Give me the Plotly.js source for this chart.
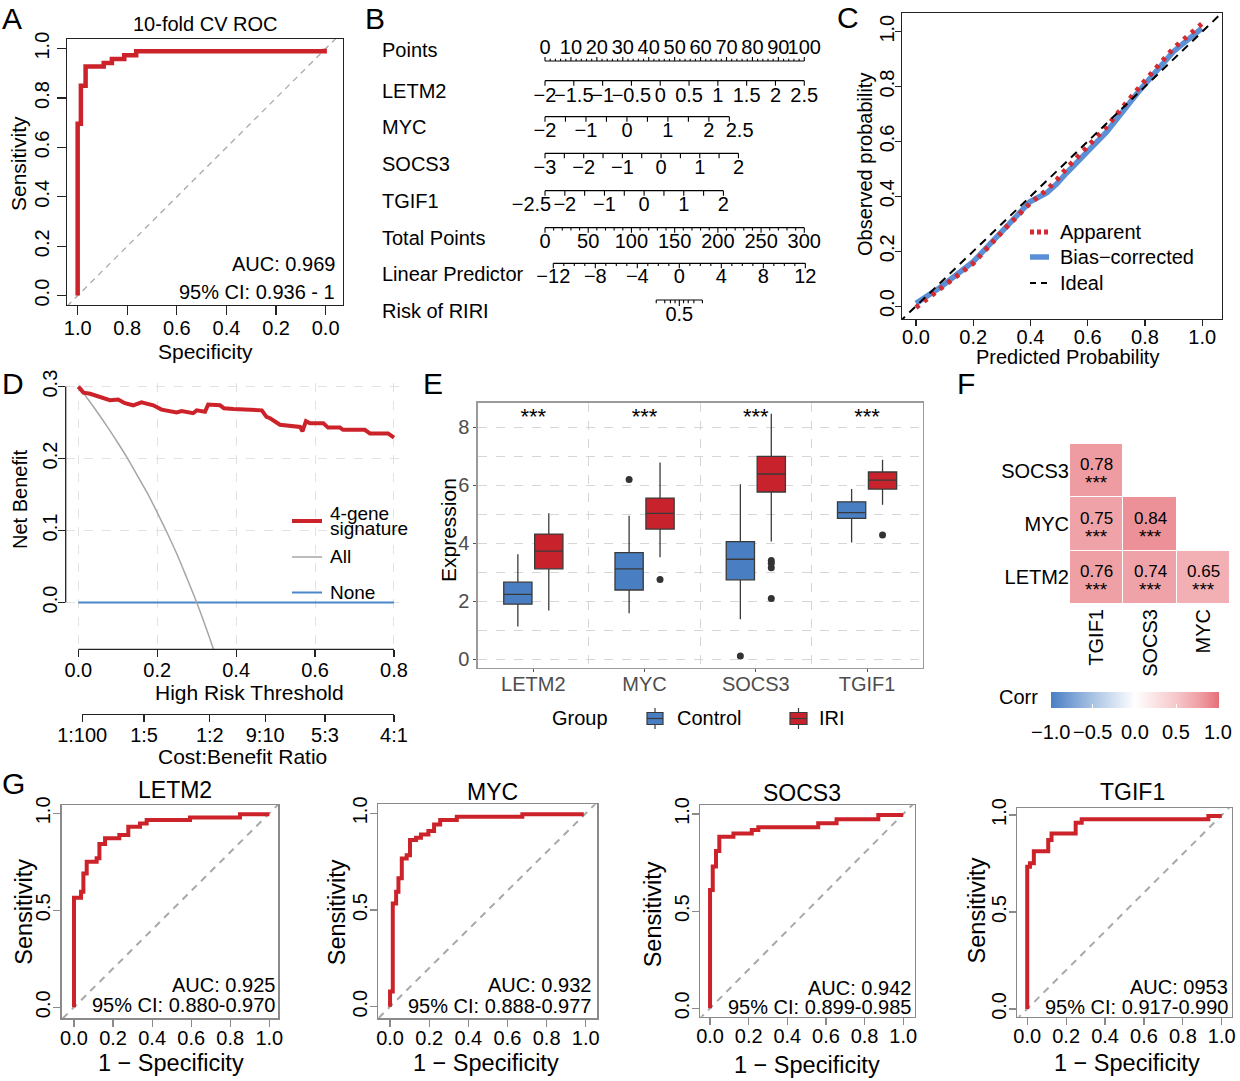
<!DOCTYPE html>
<html>
<head>
<meta charset="utf-8">
<script src="https://cdn.plot.ly/plotly-3.0.1.min.js"></script>
<style>
  html, body { margin: 0; padding: 0; background: #fff; }
  #fig { width: 1240px; height: 1081px; }
</style>
</head>
<body>
<div id="fig"></div>
<script>
const W = 1240, H = 1081;
const FONT = 'Liberation Sans, Arial, Helvetica, sans-serif';
const MINUS = '\u2212';

// ---------- A: 10-fold CV ROC (specificity vs sensitivity) ----------
const cvSpecificity = [1.0, 1.0, 0.987, 0.987, 0.968, 0.968, 0.895, 0.895, 0.862, 0.862, 0.812, 0.812, 0.764, 0.764, 0.004, 0.004];
const cvSensitivity = [0.0, 0.696, 0.696, 0.85, 0.85, 0.928, 0.928, 0.942, 0.942, 0.958, 0.958, 0.973, 0.973, 0.989, 0.989, 1.0];
const cvAUC = 'AUC: 0.969';
const cvCI = '95% CI: 0.936 - 1';

// ---------- B: nomogram ----------
const nomoNames = ['LETM2', 'MYC', 'SOCS3', 'TGIF1'];
const nomoMin = [-2, -2, -3, -2.5];            // value mapped to 0 points
const nomoPtsPerUnit = [22.22, 15.8, 14.92, 15.29];
const letm2Ticks = [-2, -1.5, -1, -0.5, 0, 0.5, 1, 1.5, 2, 2.5];
const letm2Labels = [-2, -1.5, -1, -0.5, 0, 0.5, 1, 1.5, 2, 2.5];
const mycTicks = [-2, -1.5, -1, -0.5, 0, 0.5, 1, 1.5, 2, 2.5];
const mycLabels = [-2, -1, 0, 1, 2, 2.5];
const socs3Ticks = [-3, -2.5, -2, -1.5, -1, -0.5, 0, 0.5, 1, 1.5, 2];
const socs3Labels = [-3, -2, -1, 0, 1, 2];
const tgif1Ticks = [-2.5, -2, -1.5, -1, -0.5, 0, 0.5, 1, 1.5, 2];
const tgif1Labels = [-2.5, -2, -1, 0, 1, 2];
const pointsTicks = [0, 2, 4, 6, 8, 10, 12, 14, 16, 18, 20, 22, 24, 26, 28, 30, 32, 34, 36, 38, 40, 42, 44, 46, 48, 50, 52, 54, 56, 58, 60, 62, 64, 66, 68, 70, 72, 74, 76, 78, 80, 82, 84, 86, 88, 90, 92, 94, 96, 98, 100];
const pointsLabels = [0, 10, 20, 30, 40, 50, 60, 70, 80, 90, 100];
const totalTicks = [0, 10, 20, 30, 40, 50, 60, 70, 80, 90, 100, 110, 120, 130, 140, 150, 160, 170, 180, 190, 200, 210, 220, 230, 240, 250, 260, 270, 280, 290, 300];
const totalLabels = [0, 50, 100, 150, 200, 250, 300];
const lpTicks = [-12, -11, -10, -9, -8, -7, -6, -5, -4, -3, -2, -1, 0, 1, 2, 3, 4, 5, 6, 7, 8, 9, 10, 11, 12];
const lpLabels = [-12, -8, -4, 0, 4, 8, 12];
const lpIntercept = 155.4;   // total points at linear predictor 0
const lpSlope = 12.15;       // total points per unit of linear predictor
const riskTicks = [0.1, 0.2, 0.3, 0.4, 0.5, 0.6, 0.7, 0.8, 0.9];
const riskLabels = [0.5];

// ---------- C: calibration ----------
const calPredicted = [0, 0.084, 0.2, 0.317, 0.398, 0.456, 0.491, 0.526, 0.596, 0.666, 0.782, 0.899, 0.998];
const calApparent = [-0.005, 0.061, 0.156, 0.289, 0.374, 0.423, 0.459, 0.502, 0.575, 0.654, 0.8, 0.939, 1.028];
const calBiasCorrected = [0.01, 0.068, 0.162, 0.29, 0.38, 0.412, 0.445, 0.485, 0.56, 0.635, 0.787, 0.927, 1.012];

// ---------- D: decision curve ----------
const dcaThreshold = [0, 0.013, 0.03, 0.055, 0.08, 0.101, 0.118, 0.139, 0.16, 0.19, 0.211, 0.249, 0.262, 0.291, 0.3, 0.321, 0.329, 0.359, 0.369, 0.393, 0.465, 0.477, 0.486, 0.511, 0.562, 0.568, 0.577, 0.587, 0.621, 0.633, 0.663, 0.671, 0.726, 0.739, 0.785, 0.8];
const dcaSignature = [0.3, 0.2916, 0.29, 0.286, 0.281, 0.282, 0.277, 0.274, 0.278, 0.274, 0.268, 0.264, 0.266, 0.263, 0.267, 0.265, 0.275, 0.274, 0.27, 0.269, 0.267, 0.258, 0.256, 0.247, 0.244, 0.238, 0.252, 0.249, 0.249, 0.243, 0.243, 0.24, 0.24, 0.235, 0.235, 0.229];
const allThreshold = [0, 0.025, 0.05, 0.075, 0.1, 0.125, 0.15, 0.175, 0.2, 0.225, 0.25, 0.275, 0.3, 0.325, 0.35];
const allBenefit = [0.3, 0.282, 0.263, 0.243, 0.222, 0.2, 0.176, 0.152, 0.125, 0.097, 0.067, 0.034, 0.0, -0.037, -0.077];
const noneThreshold = [0, 0.8];
const noneBenefit = [0, 0];
const costBenefitCost = [1, 1, 1, 9, 5, 4];
const costBenefitBenefit = [100, 5, 2, 10, 3, 1];

// ---------- E: expression boxplots ----------
const genes = ['LETM2', 'MYC', 'SOCS3', 'TGIF1'];
const ctrlLower = [1.12, 1.58, 1.37, 4.02];
const ctrlQ1 = [1.89, 2.38, 2.73, 4.85];
const ctrlMedian = [2.23, 3.11, 3.44, 5.05];
const ctrlQ3 = [2.65, 3.67, 4.05, 5.42];
const ctrlUpper = [3.61, 4.94, 6.03, 5.86];
const iriLower = [1.67, 3.51, 4.05, 5.32];
const iriQ1 = [3.11, 4.48, 5.76, 5.86];
const iriMedian = [3.72, 5.02, 6.38, 6.17];
const iriQ3 = [4.31, 5.55, 6.99, 6.45];
const iriUpper = [5.03, 6.78, 8.46, 6.87];
const ctrlOutlierGene = ['MYC', 'SOCS3'];
const ctrlOutlierValue = [6.19, 0.10];
const iriOutlierGene = ['MYC', 'SOCS3', 'SOCS3', 'SOCS3', 'SOCS3', 'TGIF1'];
const iriOutlierValue = [2.74, 3.40, 3.30, 3.15, 2.09, 4.28];
const sigLabels = ['***', '***', '***', '***'];

// ---------- F: correlation ----------
const corrCols = ['TGIF1', 'SOCS3', 'MYC'];
const corrRows = ['LETM2', 'MYC', 'SOCS3'];
const corrValues = [[0.76, 0.74, 0.65], [0.75, 0.84, null], [0.78, null, null]];
const corrStars = [['***', '***', '***'], ['***', '***', null], ['***', null, null]];
const corrTicks = [-1, -0.5, 0, 0.5, 1];

// ---------- G: single-gene ROC (1 - specificity vs sensitivity) ----------
const rocGenes = ['LETM2', 'MYC', 'SOCS3', 'TGIF1'];
const rocAUC = ['AUC: 0.925', 'AUC: 0.932', 'AUC: 0.942', 'AUC: 0953'];
const rocCI = ['95% CI: 0.880-0.970', '95% CI: 0.888-0.977', '95% CI: 0.899-0.985', '95% CI: 0.917-0.990'];
const letm2FPR = [0, 0, 0.036, 0.036, 0.048, 0.048, 0.065, 0.065, 0.116, 0.116, 0.13, 0.13, 0.159, 0.159, 0.232, 0.232, 0.278, 0.278, 0.338, 0.338, 0.372, 0.372, 0.594, 0.594, 0.85, 0.85, 1.0];
const letm2TPR = [0, 0.565, 0.565, 0.596, 0.596, 0.69, 0.69, 0.75, 0.75, 0.768, 0.768, 0.842, 0.842, 0.871, 0.871, 0.888, 0.888, 0.931, 0.931, 0.948, 0.948, 0.966, 0.966, 0.978, 0.978, 0.995, 0.995];
const mycFPR = [0, 0, 0.014, 0.014, 0.031, 0.031, 0.043, 0.043, 0.06, 0.06, 0.085, 0.085, 0.102, 0.102, 0.133, 0.133, 0.158, 0.158, 0.196, 0.196, 0.225, 0.225, 0.256, 0.256, 0.341, 0.341, 0.676, 0.676, 0.99];
const mycTPR = [0, 0.078, 0.078, 0.534, 0.534, 0.595, 0.595, 0.664, 0.664, 0.767, 0.767, 0.784, 0.784, 0.862, 0.862, 0.874, 0.874, 0.891, 0.891, 0.909, 0.909, 0.943, 0.943, 0.966, 0.966, 0.983, 0.983, 0.995, 0.995];
const socs3FPR = [0, 0, 0.014, 0.014, 0.031, 0.031, 0.048, 0.048, 0.121, 0.121, 0.216, 0.216, 0.25, 0.25, 0.56, 0.56, 0.655, 0.655, 0.871, 0.871, 1.0];
const socs3TPR = [0, 0.609, 0.609, 0.729, 0.729, 0.81, 0.81, 0.883, 0.883, 0.9, 0.9, 0.918, 0.918, 0.931, 0.931, 0.952, 0.952, 0.973, 0.973, 0.995, 0.995];
const tgif1FPR = [0, 0, 0.014, 0.014, 0.034, 0.034, 0.108, 0.108, 0.125, 0.125, 0.249, 0.249, 0.28, 0.28, 0.931, 0.931, 1.0];
const tgif1TPR = [0, 0.734, 0.734, 0.751, 0.751, 0.814, 0.814, 0.871, 0.871, 0.905, 0.905, 0.96, 0.96, 0.978, 0.978, 0.995, 0.995];
const rocFPR = [letm2FPR, mycFPR, socs3FPR, tgif1FPR];
const rocTPR = [letm2TPR, mycTPR, socs3TPR, tgif1TPR];

// reference diagonal endpoints (extends past the frame, clipped)
const diagRef = [-0.2, 1.2];

// ===================== helpers =====================
const px = x => x / W;
const py = y => 1 - y / H;
const dx = (l, r) => [px(l), px(r)];
const dy = (t, b) => [py(b), py(t)];
const fmt = v => (v < 0 ? MINUS + String(-v) : String(v));
const fmt1 = v => (v < 0 ? MINUS + (-v).toFixed(1) : v.toFixed(1));

const RED = '#CC2229';
const traces = [];
const annotations = [];
const shapes = [];

function label(text, x, y, size, o = {}) {
  annotations.push(Object.assign({
    text, x: px(x), y: py(y), xref: 'paper', yref: 'paper', showarrow: false,
    xanchor: 'center', yanchor: 'middle',
    font: { family: FONT, size, color: '#000' }
  }, o));
}
function pline(x0, y0, x1, y1, color, width, dash) {
  shapes.push({ type: 'line', xref: 'paper', yref: 'paper', x0: px(x0), y0: py(y0), x1: px(x1), y1: py(y1),
    line: { color, width, dash: dash || 'solid' } });
}
function rAxis(domain, range, vals, texts, o = {}) {
  return Object.assign({
    domain, range, tickmode: 'array', tickvals: vals, ticktext: texts,
    ticks: 'outside', ticklen: 8, tickwidth: 1.2, tickcolor: '#222',
    showline: true, mirror: true, linecolor: '#222', linewidth: 1.3,
    showgrid: false, zeroline: false, tickangle: 0,
    tickfont: { family: FONT, size: 20, color: '#000' }, fixedrange: true
  }, o);
}
const tick5 = [0, 0.2, 0.4, 0.6, 0.8, 1.0];
const tick5Text = tick5.map(fmt1);

const layout = {
  width: W, height: H, margin: { l: 0, r: 0, t: 0, b: 0 },
  paper_bgcolor: '#fff', plot_bgcolor: 'rgba(0,0,0,0)', showlegend: false,
  font: { family: FONT, size: 20, color: '#000' }
};

// panel letters
[['A', 12, 18], ['B', 375, 18], ['C', 848, 17], ['D', 13, 384], ['E', 433, 384], ['F', 966, 384], ['G', 13, 783]]
  .forEach(([t, x, y]) => label(t, x, y, 30));

// ===================== A =====================
layout.xaxis = rAxis(dx(67, 343), [1.043, -0.07], tick5, tick5Text, { anchor: 'y', ticklen: 9, ticklabelstandoff: -4 });
layout.yaxis = rAxis(dy(39, 305), [-0.038, 1.039], tick5, tick5Text, { anchor: 'x', ticklen: 9, tickangle: -90 });
traces.push({ x: diagRef.map(v => 1 - v), y: diagRef, xaxis: 'x', yaxis: 'y', mode: 'lines',
  line: { color: '#A8A8A8', width: 1.3, dash: '6px,5px' }, hoverinfo: 'skip' });
traces.push({ x: cvSpecificity, y: cvSensitivity, xaxis: 'x', yaxis: 'y', mode: 'lines',
  line: { color: RED, width: 4.5 }, hoverinfo: 'skip' });
label('10-fold CV ROC', 205, 24, 20);
label('Sensitivity', 18, 164, 21, { textangle: -90 });
label('Specificity', 205, 352, 21);
label(cvAUC, 337, 264, 20, { xanchor: 'right' });
label(cvCI, 337, 292, 20, { xanchor: 'right' });

// ===================== B: nomogram =====================
const B_PX_PER_PT = 2.593, B_ZERO = 545;
layout.xaxis2 = { domain: dx(440, 850), range: [(440 - B_ZERO) / B_PX_PER_PT, (850 - B_ZERO) / B_PX_PER_PT], visible: false, fixedrange: true, anchor: 'y2' };
layout.yaxis2 = { domain: dy(30, 340), range: [340, 30], visible: false, fixedrange: true, anchor: 'x2' };

function nomoScale(name, toPts, ticks, labels, g) {
  const xs = ticks.map(toPts);
  // axis line
  traces.push({ x: [Math.min(...xs), Math.max(...xs)], y: [g.line, g.line], xaxis: 'x2', yaxis: 'y2',
    mode: 'lines', line: { color: '#000', width: 1.2 }, hoverinfo: 'skip' });
  // tick marks
  const tx = [], ty = [];
  ticks.forEach((t, i) => {
    const major = labels.includes(t);
    const len = (g.tickLen || 4.5) * (major || !g.minorShort ? 1 : 0.55);
    tx.push(xs[i], xs[i], null);
    ty.push(g.line, g.line + g.dir * len, null);
  });
  traces.push({ x: tx, y: ty, xaxis: 'x2', yaxis: 'y2', mode: 'lines',
    line: { color: '#000', width: 1.1 }, hoverinfo: 'skip' });
  // tick labels; crowded end labels are pushed outward
  const pos = labels.map((v, i) => {
    if (g.firstOut && i === 0) return 'middle left';
    if (g.lastOut && i === labels.length - 1) return 'middle right';
    return 'middle center';
  });
  const nudge = labels.map((v, i) => {
    if (g.firstOut && i === 0) return 2.4;
    if (g.lastOut && i === labels.length - 1) return -1.4;
    return 0;
  });
  traces.push({ x: labels.map((v, i) => toPts(v) + nudge[i]), y: labels.map(() => g.text), text: labels.map(g.fmt || fmt),
    xaxis: 'x2', yaxis: 'y2', mode: 'text', textposition: pos, cliponaxis: false,
    textfont: { family: FONT, size: 20, color: '#000' }, hoverinfo: 'skip' });
  label(name, 380, g.name, 20, { xanchor: 'left' });
}
nomoScale('Points', v => v, pointsTicks, pointsLabels, { line: 61, text: 49, name: 50, dir: -1, tickLen: 4, minorShort: true });
const varTicks = [letm2Ticks, mycTicks, socs3Ticks, tgif1Ticks];
const varLabels = [letm2Labels, mycLabels, socs3Labels, tgif1Labels];
const varRows = [
  { line: 80.7, text: 96.5, name: 90.7 },
  { line: 116.7, text: 132, name: 127, lastOut: true },
  { line: 153.3, text: 168.5, name: 164 },
  { line: 190.7, text: 205.7, name: 201, firstOut: true }
];
nomoNames.forEach((n, i) => {
  nomoScale(n, v => (v - nomoMin[i]) * nomoPtsPerUnit[i], varTicks[i], varLabels[i],
    Object.assign({ dir: 1, tickLen: 5 }, varRows[i]));
});
nomoScale('Total Points', v => v / 3, totalTicks, totalLabels, { line: 227.7, text: 243.3, name: 237.7, dir: 1, tickLen: 5, minorShort: true });
nomoScale('Linear Predictor', v => (lpIntercept + lpSlope * v) / 3, lpTicks, lpLabels, { line: 263.3, text: 277.7, name: 274.3, dir: 1, tickLen: 5, minorShort: true });
nomoScale('Risk of RIRI', r => (lpIntercept + lpSlope * Math.log(r / (1 - r))) / 3, riskTicks, riskLabels,
  { line: 300, text: 316, name: 311, dir: 1, tickLen: 6, minorShort: true });

// ===================== C: calibration =====================
layout.xaxis3 = rAxis(dx(902, 1221.7), [-0.049, 1.068], tick5, tick5Text, { anchor: 'y3', ticklen: 6, ticklabelstandoff: -6 });
layout.yaxis3 = rAxis(dy(13, 319), [-0.047, 1.068], tick5, tick5Text, { anchor: 'x3', ticklen: 6, tickangle: -90, ticklabelstandoff: -7 });
traces.push({ x: calPredicted, y: calBiasCorrected, xaxis: 'x3', yaxis: 'y3', mode: 'lines',
  line: { color: '#5B8FD6', width: 5.5 }, hoverinfo: 'skip' });
traces.push({ x: calPredicted, y: calApparent, xaxis: 'x3', yaxis: 'y3', mode: 'lines',
  line: { color: '#D42A32', width: 5, dash: '4px,6px' }, hoverinfo: 'skip' });
traces.push({ x: diagRef, y: diagRef, xaxis: 'x3', yaxis: 'y3', mode: 'lines',
  line: { color: '#000', width: 2, dash: '8px,6px' }, hoverinfo: 'skip' });
label('Observed probability', 865, 165, 20, { textangle: -90 });
label('Predicted Probability', 1067, 357, 20);
pline(1030, 232, 1049, 232, '#D42A32', 5, '4px,3px');
pline(1030, 257, 1049, 257, '#5B8FD6', 5.5);
pline(1030, 283, 1049, 283, '#000', 2, '6px,5px');
label('Apparent', 1058, 232, 20, { xanchor: 'left' });
label('Bias' + MINUS + 'corrected', 1058, 257, 20, { xanchor: 'left' });
label('Ideal', 1058, 283, 20, { xanchor: 'left' });

// ===================== D: decision curve =====================
const gridDash = { showgrid: true, gridcolor: '#E2E2E2', gridwidth: 1, griddash: 'dash' };
layout.xaxis4 = rAxis(dx(65.7, 406.6), [-0.032, 0.832], [0, 0.2, 0.4, 0.6, 0.8], ['0.0', '0.2', '0.4', '0.6', '0.8'],
  Object.assign({ anchor: 'y4', showline: false, mirror: false, ticklen: 7, ticklabelstandoff: -4 }, gridDash));
layout.yaxis4 = rAxis(dy(383, 649.3), [-0.065, 0.305], [0, 0.1, 0.2, 0.3], ['0.0', '0.1', '0.2', '0.3'],
  Object.assign({ anchor: 'x4', showline: false, mirror: false, ticklen: 7, tickangle: -90, ticklabelstandoff: -7 }, gridDash));
shapes.push({ type: 'line', xref: 'paper', yref: 'y4', x0: px(65.7), x1: px(65.7), y0: 0, y1: 0.3, line: { color: '#222', width: 1.3 } });
shapes.push({ type: 'line', xref: 'x4', yref: 'paper', x0: 0, x1: 0.8, y0: py(649.3), y1: py(649.3), line: { color: '#222', width: 1.3 } });
traces.push({ x: noneThreshold, y: noneBenefit, xaxis: 'x4', yaxis: 'y4', mode: 'lines',
  line: { color: '#4A86C8', width: 2 }, hoverinfo: 'skip' });
traces.push({ x: allThreshold, y: allBenefit, xaxis: 'x4', yaxis: 'y4', mode: 'lines',
  line: { color: '#A6A6A6', width: 1.5, shape: 'spline' }, hoverinfo: 'skip' });
traces.push({ x: dcaThreshold, y: dcaSignature, xaxis: 'x4', yaxis: 'y4', mode: 'lines',
  line: { color: RED, width: 4 }, hoverinfo: 'skip' });
// cost:benefit ratio axis, sharing the threshold scale of the main axis
const cbThreshold = costBenefitCost.map((c, i) => c / (c + costBenefitBenefit[i]));
const cbText = costBenefitCost.map((c, i) => c + ':' + costBenefitBenefit[i]);
const D_X0 = 78.3, D_PX_PER_UNIT = 394.6;
layout.xaxis5 = rAxis(dx(D_X0 + cbThreshold[0] * D_PX_PER_UNIT, D_X0 + 0.8 * D_PX_PER_UNIT), [cbThreshold[0], 0.8], cbThreshold, cbText,
  { anchor: 'y5', mirror: false, ticklen: 7, ticklabelstandoff: -4 });
layout.yaxis5 = { domain: dy(700, 714), range: [0, 1], visible: false, fixedrange: true, anchor: 'x5' };
traces.push({ x: [0.4], y: [null], xaxis: 'x5', yaxis: 'y5', mode: 'markers', marker: { opacity: 0 }, hoverinfo: 'skip' });
label('Net Benefit', 20, 500, 20, { textangle: -90 });
label('High Risk Threshold', 249, 692, 21);
label('Cost:Benefit Ratio', 242, 756, 21);
pline(292, 521, 322, 521, RED, 4);
pline(292, 557, 322, 557, '#A6A6A6', 1.5);
pline(292, 592.5, 322, 592.5, '#4A86C8', 2);
label('4-gene', 328, 513, 19, { xanchor: 'left' });
label('signature', 328, 529, 19, { xanchor: 'left' });
label('All', 328, 556, 19, { xanchor: 'left' });
label('None', 328, 592, 19, { xanchor: 'left' });

// ===================== E: boxplots =====================
const GRAY = '#4D4D4D';
const BOX_OFF = 0.139, BOX_W = 0.254;
const gridE = { showgrid: true, gridcolor: '#D6D6D6', gridwidth: 1, griddash: 'dash' };
layout.xaxis6 = {
  domain: dx(477.7, 922.7), range: [0.5, 4.5], anchor: 'y6', tickmode: 'array',
  tickvals: genes.map((g, i) => i + 1), ticktext: genes, tickangle: 0,
  ticks: 'outside', ticklen: 3, tickcolor: '#555', showgrid: false, zeroline: false,
  showline: true, mirror: true, linecolor: '#9A9A9A', linewidth: 1.3, fixedrange: true,
  ticklabelstandoff: -5,
  tickfont: { family: FONT, size: 20, color: GRAY },
  minor: Object.assign({ tick0: 0.5, dtick: 1, ticks: '' }, gridE)
};
layout.yaxis6 = Object.assign({
  domain: dy(402.7, 667.7), range: [-0.3, 8.84], anchor: 'x6', tickmode: 'array',
  tickvals: [0, 2, 4, 6, 8], ticktext: ['0', '2', '4', '6', '8'],
  ticks: 'outside', ticklen: 3, tickcolor: '#555', zeroline: false,
  showline: true, mirror: true, linecolor: '#9A9A9A', linewidth: 1.3, fixedrange: true,
  tickfont: { family: FONT, size: 20, color: GRAY },
  minor: Object.assign({ tick0: 0, dtick: 1, ticks: '' }, gridE)
}, gridE);
function boxTrace(name, off, lo, q1, med, q3, hi, fill) {
  return {
    type: 'box', name, xaxis: 'x6', yaxis: 'y6',
    x: genes.map((g, i) => i + 1 + off), q1, median: med, q3, lowerfence: lo, upperfence: hi,
    width: BOX_W, whiskerwidth: 0, boxpoints: false, fillcolor: fill,
    line: { color: '#3A3A3A', width: 1.3 }, hoverinfo: 'skip'
  };
}
traces.push(boxTrace('Control', -BOX_OFF, ctrlLower, ctrlQ1, ctrlMedian, ctrlQ3, ctrlUpper, '#4A7EC2'));
traces.push(boxTrace('IRI', BOX_OFF, iriLower, iriQ1, iriMedian, iriQ3, iriUpper, '#C8232C'));
traces.push({ x: ctrlOutlierGene.map(g => genes.indexOf(g) + 1 - BOX_OFF), y: ctrlOutlierValue, xaxis: 'x6', yaxis: 'y6',
  mode: 'markers', marker: { color: '#333', size: 7 }, hoverinfo: 'skip' });
traces.push({ x: iriOutlierGene.map(g => genes.indexOf(g) + 1 + BOX_OFF), y: iriOutlierValue, xaxis: 'x6', yaxis: 'y6',
  mode: 'markers', marker: { color: '#333', size: 7 }, hoverinfo: 'skip' });
traces.push({ x: genes.map((g, i) => i + 1), y: genes.map(() => 8.3), text: sigLabels, xaxis: 'x6', yaxis: 'y6',
  mode: 'text', textposition: 'middle center', cliponaxis: false,
  textfont: { family: FONT, size: 22, color: '#000' }, hoverinfo: 'skip' });
label('Expression', 448, 530, 21, { textangle: -90 });
label('Group', 550, 718, 20, { xanchor: 'left' });
label('Control', 675, 718, 20, { xanchor: 'left' });
label('IRI', 817, 718, 20, { xanchor: 'left' });
function legendBox(l, r, fill) {
  const c = (l + r) / 2;
  pline(c, 708, c, 729, '#3A3A3A', 1.2);
  shapes.push({ type: 'rect', xref: 'paper', yref: 'paper', x0: px(l), x1: px(r), y0: py(712.5), y1: py(724.5),
    fillcolor: fill, line: { color: '#3A3A3A', width: 1.2 } });
  pline(l, 718.5, r, 718.5, '#3A3A3A', 1.2);
}
legendBox(647, 663, '#4A7EC2');
legendBox(790, 807, '#C8232C');

// ===================== F: correlation heatmap =====================
layout.xaxis7 = {
  domain: dx(1070, 1230), anchor: 'y7', type: 'category', categoryorder: 'array', categoryarray: corrCols,
  range: [-0.5, 2.5], showgrid: false, zeroline: false, showline: false, ticks: '', tickangle: -90,
  tickfont: { family: FONT, size: 20, color: '#000' }, fixedrange: true
};
layout.yaxis7 = {
  domain: dy(444, 604), anchor: 'x7', type: 'category', categoryorder: 'array', categoryarray: corrRows,
  range: [-0.5, 2.5], showgrid: false, zeroline: false, showline: false, ticks: '',
  tickfont: { family: FONT, size: 20, color: '#000' }, fixedrange: true
};
const CB_L = 1050.7, CB_LEN = 167.6;
traces.push({
  type: 'heatmap', x: corrCols, y: corrRows, z: corrValues, xaxis: 'x7', yaxis: 'y7',
  zmin: -1, zmax: 1, xgap: 1, ygap: 1, hoverinfo: 'skip',
  colorscale: [[0, '#4A7FC4'], [0.25, '#A9C3E3'], [0.5, '#FFFFFF'], [0.75, '#F6C6C9'], [0.825, '#F2B0B5'],
    [0.875, '#EFA2A7'], [0.92, '#EC9197'], [1, '#E66F78']],
  colorbar: {
    orientation: 'h', x: px(CB_L), xanchor: 'left', y: py(691.7), yanchor: 'top',
    len: CB_LEN, lenmode: 'pixels', thickness: 15.6, thicknessmode: 'pixels',
    outlinewidth: 0, xpad: 0, ypad: 0, tickmode: 'array',
    tickvals: corrTicks, showticklabels: false,
    ticks: 'inside', ticklen: 4, tickcolor: '#fff', tickwidth: 1
  }
});
corrTicks.forEach(v => label(fmt1(v), CB_L + (v + 1) / 2 * CB_LEN, 732, 20));
corrRows.forEach((r, ri) => corrCols.forEach((c, ci) => {
  const v = corrValues[ri][ci];
  if (v === null) return;
  annotations.push({ xref: 'x7', yref: 'y7', x: c, y: r, text: v.toFixed(2), showarrow: false,
    yshift: 6, font: { family: FONT, size: 17, color: '#000' } });
  annotations.push({ xref: 'x7', yref: 'y7', x: c, y: r, text: corrStars[ri][ci], showarrow: false,
    yshift: -12, font: { family: FONT, size: 19, color: '#000' } });
}));
label('Corr', 997, 697, 20, { xanchor: 'left' });

// ===================== G: single-gene ROC =====================
const G_BOX = [
  { l: 61.7, r: 278.3, t: 805, b: 1018.3, xr: [-0.063, 1.046], yr: [-0.057, 1.043], title: [175, 790], ylab: [24, 911.7], xlab: [170.8, 1063.3], aucR: 277.3, aucY: 985, ciY: 1005 },
  { l: 378.3, r: 597.3, t: 804.3, b: 1018.3, xr: [-0.06, 1.059], yr: [-0.06, 1.047], title: [492.7, 791.7], ylab: [336.7, 912.5], xlab: [485.8, 1063.3], aucR: 592.7, aucY: 985, ciY: 1006 },
  { l: 700, r: 915, t: 805, b: 1016.7, xr: [-0.052, 1.061], yr: [-0.043, 1.046], title: [801.7, 793.3], ylab: [653.3, 914], xlab: [806.7, 1065], aucR: 913.3, aucY: 988.3, ciY: 1007.3 },
  { l: 1017.3, r: 1231.7, t: 808.3, b: 1016.7, xr: [-0.051, 1.051], yr: [-0.04, 1.035], title: [1132.7, 791.7], ylab: [976.7, 910.7], xlab: [1126.7, 1063.3], aucR: 1230, aucY: 986.7, ciY: 1006.7 }
];
const boxGray = { linecolor: '#8A8A8A', tickcolor: '#8A8A8A', ticklen: 7 };
rocGenes.forEach((g, i) => {
  const b = G_BOX[i], n = 8 + i;
  layout['xaxis' + n] = rAxis(dx(b.l, b.r), b.xr, tick5, tick5Text, Object.assign({ anchor: 'y' + n, ticklabelstandoff: -6 }, boxGray));
  layout['yaxis' + n] = rAxis(dy(b.t, b.b), b.yr, [0, 0.5, 1], ['0.0', '0.5', '1.0'],
    Object.assign({ anchor: 'x' + n, tickangle: -90, ticklabelstandoff: -5 }, boxGray));
  traces.push({ x: diagRef, y: diagRef, xaxis: 'x' + n, yaxis: 'y' + n, mode: 'lines',
    line: { color: '#A8A8A8', width: 2, dash: '7px,6px' }, hoverinfo: 'skip' });
  traces.push({ x: rocFPR[i], y: rocTPR[i], xaxis: 'x' + n, yaxis: 'y' + n, mode: 'lines',
    line: { color: RED, width: 4 }, hoverinfo: 'skip' });
  label(g, b.title[0], b.title[1], 23);
  label('Sensitivity', b.ylab[0], b.ylab[1], 23.5, { textangle: -90 });
  label('1 ' + MINUS + ' Specificity', b.xlab[0], b.xlab[1], 23.5);
  label(rocAUC[i], b.aucR, b.aucY, 20, { xanchor: 'right' });
  label(rocCI[i], b.aucR, b.ciY, 20, { xanchor: 'right' });
});

layout.annotations = annotations;
layout.shapes = shapes;
Plotly.newPlot('fig', traces, layout, { staticPlot: true, displayModeBar: false });
</script>
</body>
</html>
